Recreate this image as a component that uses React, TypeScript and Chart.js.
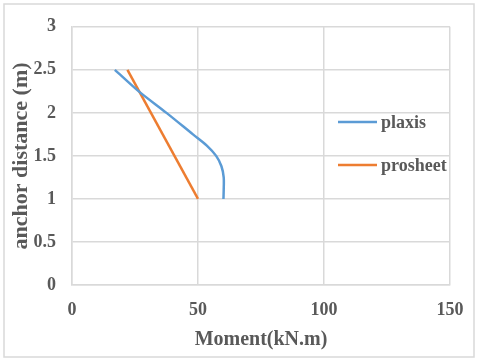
import React, { useEffect, useRef } from "react";
import { Chart, registerables } from "chart.js";

Chart.register(...registerables);

const plaxisX = [17, 26.5, 37.5, 48, 53.5, 57.2, 59.3, 60.2, 60.2, 60.1];
const plaxisY = [2.5, 2.25, 2.0, 1.75, 1.62, 1.5, 1.38, 1.25, 1.1, 1.0];
const prosheetX = [22, 50];
const prosheetY = [2.5, 1.0];
const seriesNames = ["plaxis", "prosheet"];
const seriesColors = ["#5B9BD5", "#ED7D31"];
const xTitle = "Moment(kN.m)";
const yTitle = "anchor distance (m)";

const FONT = "'Liberation Serif', 'Times New Roman', serif";
const TEXT = "#595959";
const GRID = "#d9d9d9";

const overlayPlugin = {
  id: "overlay",
  beforeDraw(chart: any) {
    const ctx = chart.ctx;
    ctx.save();
    ctx.fillStyle = "#ffffff";
    ctx.fillRect(0, 0, chart.width, chart.height);
    ctx.strokeStyle = GRID;
    ctx.lineWidth = 1.5;
    ctx.strokeRect(4, 4, 470, 353);
    ctx.restore();
  },
  afterDatasetsDraw(chart: any) {
    const ctx = chart.ctx;
    ctx.save();
    chart.data.datasets.forEach((ds: any, i: number) => {
      const y = 122 + 43 * i;
      ctx.strokeStyle = ds.borderColor;
      ctx.lineWidth = 2.5;
      ctx.beginPath();
      ctx.moveTo(338, y);
      ctx.lineTo(377, y);
      ctx.stroke();
      ctx.fillStyle = TEXT;
      ctx.font = `bold 18px ${FONT}`;
      ctx.textBaseline = "middle";
      ctx.textAlign = "left";
      ctx.fillText(ds.label, 381, y + 1);
    });
    ctx.restore();
  },
};

export default function App() {
  const ref = useRef<HTMLCanvasElement | null>(null);
  useEffect(() => {
    if (!ref.current) return;
    const chart = new Chart(ref.current, {
      type: "scatter",
      data: {
        datasets: [
          {
            label: seriesNames[0],
            data: plaxisX.map((x, i) => ({ x, y: plaxisY[i] })),
            borderColor: seriesColors[0],
            backgroundColor: seriesColors[0],
            showLine: true,
            borderWidth: 2.5,
            pointRadius: 0,
            tension: 0.3,
          },
          {
            label: seriesNames[1],
            data: prosheetX.map((x, i) => ({ x, y: prosheetY[i] })),
            borderColor: seriesColors[1],
            backgroundColor: seriesColors[1],
            showLine: true,
            borderWidth: 2.5,
            pointRadius: 0,
            tension: 0,
          },
        ],
      },
      options: {
        animation: false,
        responsive: true,
        maintainAspectRatio: false,
        layout: { padding: { left: 7, right: 30, top: 23, bottom: 0 } },
        plugins: { legend: { display: false }, tooltip: { enabled: false } },
        scales: {
          x: {
            type: "linear",
            min: 0,
            max: 150,
            ticks: {
              stepSize: 50,
              padding: 15,
              color: TEXT,
              font: { family: FONT, size: 18, weight: "bold" },
              callback: (v: any) => String(Number(v)),
            },
            grid: { color: GRID, lineWidth: 1.5, drawTicks: false },
            border: { color: GRID, width: 1.5 },
            title: {
              display: true,
              text: xTitle,
              color: TEXT,
              font: { family: FONT, size: 20, weight: "bold" },
              padding: { top: 4, bottom: 9 },
            },
            afterFit: (s: any) => {
              s.height = 76;
            },
          },
          y: {
            type: "linear",
            min: 0,
            max: 3,
            ticks: {
              stepSize: 0.5,
              padding: 16,
              color: TEXT,
              font: { family: FONT, size: 18, weight: "bold" },
              callback: (v: any) => String(Number(v)),
            },
            grid: { color: GRID, lineWidth: 1.5, drawTicks: false },
            border: { color: GRID, width: 1.5 },
            title: {
              display: true,
              text: yTitle,
              color: TEXT,
              font: { family: FONT, size: 22, weight: "bold" },
              padding: { top: 1, bottom: 4 },
            },
            afterFit: (s: any) => {
              s.width = 65;
            },
          },
        },
      },
      plugins: [overlayPlugin],
    });
    return () => chart.destroy();
  }, []);
  return (
    <div style={{ position: "absolute", left: 0, top: 0, width: 480, height: 361 }}>
      <canvas ref={ref} />
    </div>
  );
}
